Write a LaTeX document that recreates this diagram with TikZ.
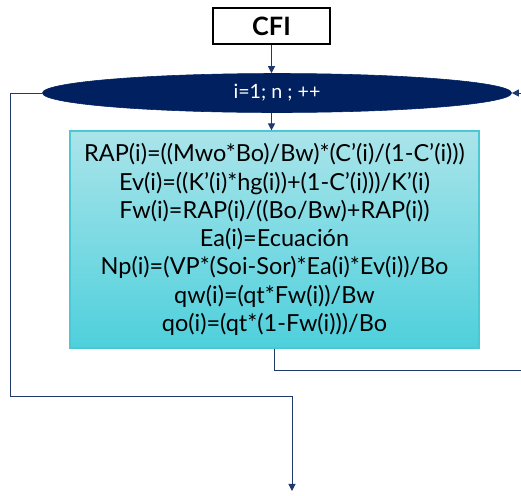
\documentclass[tikz,border=0pt]{standalone}
\usepackage{fontspec}
\setmainfont{Lato}
\usetikzlibrary{positioning, arrows.meta, shapes.geometric}
\definecolor{navyfill}{RGB}{0,32,96}
\definecolor{linenavy}{RGB}{31,56,110}
\definecolor{cyantop}{RGB}{170,228,234}
\definecolor{cyanbot}{RGB}{78,208,220}
\definecolor{cyanedge}{RGB}{75,200,212}

\begin{document}
\begin{tikzpicture}[x=0.025cm, y=-0.025cm,
  flow/.style={linenavy, line width=0.7pt, -{Triangle[length=5pt,width=5pt]}},
  link/.style={linenavy, line width=0.7pt}]
  \useasboundingbox (0,0) rectangle (521,495);

  % start box
  \node[draw, line width=1.3pt, minimum width=2.925cm, minimum height=0.9cm,
        font=\fontsize{18}{20}\selectfont\bfseries] (cfi) at (271.5,26) {CFI};

  % loop header
  \node[ellipse, fill=navyfill, draw=navyfill, inner sep=0pt,
        minimum width=11.725cm, minimum height=0.975cm, text=white,
        font=\fontsize{14}{16}\selectfont] (loop) at (277,93) {i=1; n ; ++};

  % calculations
  \node[draw=cyanedge, line width=0.8pt, top color=cyantop, bottom color=cyanbot,
        minimum width=10.225cm, minimum height=5.425cm, align=center,
        font=\fontsize{16.7}{20.1}\selectfont] (calc) at (274.5,239.5)
    {RAP(i)=((Mwo*Bo)/Bw)*(C’(i)/(1-C’(i)))\\
     Ev(i)=((K’(i)*hg(i))+(1-C’(i)))/K’(i)\\
     Fw(i)=RAP(i)/((Bo/Bw)+RAP(i))\\
     Ea(i)=Ecuación\\
     Np(i)=(VP*(Soi-Sor)*Ea(i)*Ev(i))/Bo\\
     qw(i)=(qt*Fw(i))/Bw\\
     qo(i)=(qt*(1-Fw(i)))/Bo};

  \coordinate (back) at (530,370);
  \coordinate (exit) at (292,491);

  \draw[flow] (cfi.south) -- (cfi.south |- loop.north);
  \draw[flow] (loop.south -| cfi.south) -- (cfi.south |- calc.north);
  \draw[flow] (calc.south) |- (back) |- (loop.east);
  \draw[flow] (loop.west) -| (10,396) -| (exit);
\end{tikzpicture}
\end{document}
